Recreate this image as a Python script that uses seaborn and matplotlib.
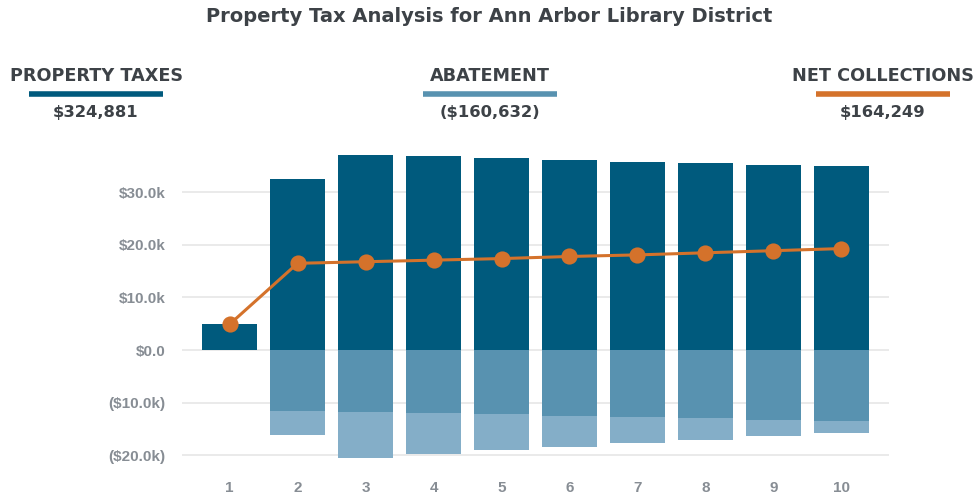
import matplotlib
matplotlib.use("Agg")
import matplotlib.pyplot as plt
import seaborn as sns
import pandas as pd

# ---- data ----
years = ["1", "2", "3", "4", "5", "6", "7", "8", "9", "10"]
property_taxes = [4900, 32500, 37050, 36900, 36500, 36100, 35700, 35500, 35200, 35000]
abatement_total = [0, -16100, -20450, -19800, -18950, -18400, -17700, -17100, -16300, -15800]
abatement_primary = [0, -11600, -11800, -12000, -12200, -12500, -12700, -12900, -13300, -13500]
net_collections = [4900, 16500, 16800, 17100, 17400, 17800, 18100, 18500, 18900, 19300]
ytick_values = [-20000, -10000, 0, 10000, 20000, 30000]
ytick_labels = ["($20.0k)", "($10.0k)", "$0.0", "$10.0k", "$20.0k", "$30.0k"]
legend_titles = ["PROPERTY TAXES", "ABATEMENT", "NET COLLECTIONS"]
legend_values = ["$324,881", "($160,632)", "$164,249"]
title = "Property Tax Analysis for Ann Arbor Library District"

C_TAX = "#005a7d"
C_ABT = "#5892b0"
C_ABT2 = "#84aec8"
C_NET = "#d4722b"

df = pd.DataFrame({"year": years, "tax": property_taxes, "abt_total": abatement_total,
                   "abt_primary": abatement_primary, "net": net_collections})

sns.set_theme(style="white")
plt.rcParams["font.family"] = ["Liberation Sans", "DejaVu Sans"]

fig = plt.figure(figsize=(9.76, 4.97), dpi=100)
ax = fig.add_axes([182 / 976, 1 - 471 / 497, (889 - 182) / 976, (471 - 145) / 497])

for y in ytick_values:
    ax.axhline(y, color="#e6e6e6", lw=1.2, zorder=0)

bw = 0.81
sns.barplot(data=df, x="year", y="tax", color=C_TAX, saturation=1, width=bw, ax=ax,
            zorder=2, linewidth=0)
sns.barplot(data=df, x="year", y="abt_total", color=C_ABT2, saturation=1, width=bw, ax=ax,
            zorder=2, linewidth=0)
sns.barplot(data=df, x="year", y="abt_primary", color=C_ABT, saturation=1, width=bw, ax=ax,
            zorder=2, linewidth=0)
sns.pointplot(data=df, x="year", y="net", color=C_NET, markers="o", ax=ax,
              markersize=10, linewidth=2.2, zorder=5)

ax.set_xlim(-0.7, 9.7)
ax.set_ylim(-23000, 39000)
ax.set_yticks(ytick_values)
ax.set_yticklabels(ytick_labels)
ax.set_xlabel("")
ax.set_ylabel("")
for s in ax.spines.values():
    s.set_visible(False)
ax.tick_params(axis="both", length=0, colors="#878d94", labelsize=11)
ax.tick_params(axis="y", pad=12)
ax.tick_params(axis="x", pad=7)
for lab in ax.get_xticklabels() + ax.get_yticklabels():
    lab.set_fontweight("bold")
    lab.set_family(["Liberation Sans", "DejaVu Sans"])

HDR = ["DejaVu Sans"]
# title
fig.text(489 / 976, 1 - 17 / 497, title, ha="center", va="center", fontsize=14,
         fontweight="bold", color="#3d4247", family=HDR)

# legend blocks
centers = [96, 490, 883]
colors = [C_TAX, C_ABT, C_NET]
for cx, t, v, c in zip(centers, legend_titles, legend_values, colors):
    fig.text(cx / 976, 1 - 76 / 497, t, ha="center", va="center", fontsize=12.7,
             fontweight="bold", color="#3d4247", family=HDR)
    fig.add_artist(plt.Line2D([(cx - 67) / 976, (cx + 67) / 976], [1 - 94 / 497, 1 - 94 / 497],
                              color=c, lw=4, solid_capstyle="butt"))
    fig.text(cx / 976, 1 - 112 / 497, v, ha="center", va="center", fontsize=11.8,
             fontweight="bold", color="#3d4247", family=HDR)

fig.savefig("out.png", dpi=100)
